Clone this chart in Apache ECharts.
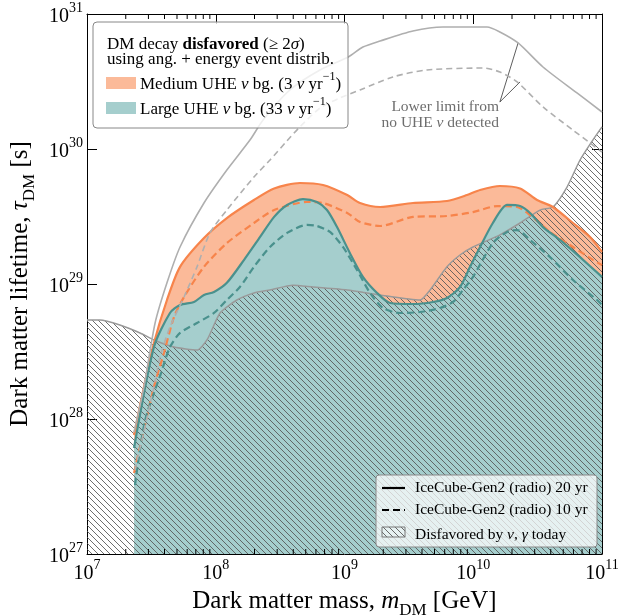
<!DOCTYPE html>
<html><head><meta charset="utf-8">
<script src="https://cdn.jsdelivr.net/npm/echarts@6/dist/echarts.min.js"></script>
<style>html,body{margin:0;padding:0;background:#fff}#c{width:641px;height:616px}</style>
</head><body><div id="c"></div>
<script>
// ---- data (x: DM mass [GeV], y: lifetime [s]) ----
const minorTicksX = [2e7,3e7,4e7,5e7,6e7,7e7,8e7,9e7, 2e8,3e8,4e8,5e8,6e8,7e8,8e8,9e8,
  2e9,3e9,4e9,5e9,6e9,7e9,8e9,9e9, 2e10,3e10,4e10,5e10,6e10,7e10,8e10,9e10];
const minorTicksY = [2e27,3e27,4e27,5e27,6e27,7e27,8e27,9e27, 2e28,3e28,4e28,5e28,6e28,7e28,8e28,9e28,
  2e29,3e29,4e29,5e29,6e29,7e29,8e29,9e29, 2e30,3e30,4e30,5e30,6e30,7e30,8e30,9e30];

const noUHE20 = [[2.32e7,8.0e27],[2.77e7,1.73e28],[3.38e7,5.14e28],[4.18e7,1.02e29],[5.28e7,1.88e29],
  [8.10e7,3.98e29],[1.22e8,6.99e29],[1.85e8,1.17e30],[2.33e8,1.64e30],[3.77e8,2.74e30],[6.45e8,3.85e30],
  [1.07e9,4.80e30],[1.39e9,5.69e30],[1.89e9,6.31e30],[3.40e9,7.48e30],[5.82e9,8.01e30],[1.28e10,8.01e30],
  [1.61e10,7.36e30],[2.23e10,6.10e30],[3.48e10,4.05e30],[6.39e10,2.60e30],[1e11,1.88e30]];
const noUHE10 = [[2.36e7,4.19e27],[3.31e7,1.73e28],[3.69e7,2.88e28],[4.41e7,4.80e28],[5.67e7,8.01e28],
  [7.15e7,1.34e29],[9.02e7,2.39e29],[1.22e8,3.53e29],[1.98e8,6.20e29],[2.64e8,8.29e29],[3.58e8,1.15e30],
  [4.51e8,1.46e30],[6.45e8,2.01e30],[9.23e8,2.39e30],[1.32e9,2.74e30],[2.38e9,3.42e30],[4.37e9,3.85e30],
  [1.19e10,3.98e30],[1.61e10,3.72e30],[2.19e10,3.14e30],[3.48e10,2.05e30],[5.95e10,1.38e30],
  [8.07e10,1.11e30],[1e11,9.5e29]];
const medium20 = [[2.32e7,7.6e27],[2.77e7,1.73e28],[3.31e7,3.66e28],[4.18e7,7.61e28],[5.28e7,1.34e29],
  [8.10e7,2.19e29],[1.22e8,3.08e29],[1.98e8,4.19e29],[2.84e8,5.10e29],[4.51e8,5.60e29],[6.81e8,5.41e29],
  [1.05e9,4.56e29],[1.32e9,3.98e29],[1.89e9,3.72e29],[3.40e9,3.98e29],[6.25e9,4.12e29],[8.94e9,4.56e29],
  [1.13e10,4.97e29],[1.61e10,5.32e29],[2.31e10,5.10e29],[3.13e10,4.19e29],[4.16e10,3.72e29],
  [5.95e10,2.83e29],[8.07e10,2.23e29],[1e11,1.73e29]];
const medium10 = [[2.32e7,3.98e27],[3.31e7,1.73e28],[3.96e7,3.08e28],[4.74e7,5.69e28],[5.67e7,8.01e28],
  [8.10e7,1.34e29],[1.22e8,2.01e29],[1.98e8,2.83e29],[2.84e8,3.53e29],[5.11e8,4.05e29],[6.81e8,3.98e29],
  [1.05e9,3.36e29],[1.32e9,2.88e29],[1.89e9,2.69e29],[3.40e9,3.14e29],[6.25e9,3.19e29],[9.96e9,3.41e29],
  [1.53e10,3.78e29],[2.19e10,3.72e29],[2.76e10,3.24e29],[3.95e10,2.43e29],[5.95e10,1.88e29],
  [8.51e10,1.51e29],[1e11,1.38e29]];
const large20 = [[2.32e7,6.1e27],[3.31e7,3.41e28],[4.41e7,6.10e28],[5.28e7,6.99e28],[6.78e7,7.36e28],
  [8.10e7,8.29e28],[9.69e7,8.73e28],[1.22e8,1.02e29],[1.66e8,1.51e29],[2.21e8,2.23e29],[2.84e8,3.14e29],
  [3.58e8,3.85e29],[4.76e8,4.26e29],[6.11e8,4.05e29],[7.31e8,3.53e29],[8.75e8,2.64e29],[1.10e9,1.70e29],
  [1.39e9,1.13e29],[1.79e9,8.58e28],[2.26e9,7.23e28],[3.40e9,7.11e28],[4.87e9,7.36e28],[6.25e9,7.87e28],
  [7.89e9,9.50e28],[9.44e9,1.34e29],[1.13e10,1.88e29],[1.42e10,2.83e29],[1.83e10,3.85e29],
  [2.31e10,3.78e29],[2.76e10,3.36e29],[3.48e10,2.64e29],[4.72e10,2.12e29],[6.75e10,1.58e29],[1e11,1.13e29]];
const large10 = [[2.36e7,3.24e27],[2.82e7,9.67e27],[3.76e7,2.19e28],[4.41e7,3.41e28],[5.28e7,4.34e28],
  [7.15e7,5.14e28],[9.69e7,6.10e28],[1.22e8,7.61e28],[1.54e8,9.50e28],[1.98e8,1.34e29],[2.64e8,1.88e29],
  [3.58e8,2.39e29],[5.11e8,2.74e29],[6.11e8,2.69e29],[7.72e8,2.43e29],[9.73e8,1.88e29],[1.25e9,1.27e29],
  [1.58e9,8.58e28],[1.99e9,6.64e28],[2.70e9,6.10e28],[3.86e9,6.20e28],[5.52e9,6.64e28],[6.96e9,7.36e28],
  [8.32e9,9.03e28],[9.96e9,1.13e29],[1.42e10,2.01e29],[1.83e10,2.43e29],[2.19e10,2.51e29],
  [2.76e10,2.12e29],[3.95e10,1.58e29],[5.95e10,1.07e29],[9.15e10,7.61e28],[1e11,6.99e28]];
const disfavoredToday = [[1e7,5.41e28],[1.26e7,5.41e28],[1.80e7,4.97e28],[2.58e7,4.34e28],[3.31e7,3.85e28],
  [4.74e7,3.41e28],[7.15e7,3.24e28],[8.55e7,3.85e28],[1.08e8,6.10e28],[1.46e8,7.61e28],[1.98e8,8.58e28],
  [2.64e8,9.03e28],[3.98e8,9.80e28],[5.69e8,9.50e28],[1.05e9,9.03e28],[1.89e9,8.29e28],[3.86e9,7.61e28],
  [4.62e9,9.03e28],[6.25e9,1.34e29],[7.89e9,1.64e29],[9.96e9,1.88e29],[1.61e10,2.31e29],[2.31e10,2.83e29],
  [3.30e10,3.53e29],[4.16e10,3.72e29],[5.35e10,5.23e29],[6.75e10,8.29e29],[8.51e10,1.17e30],[1e11,1.46e30]];
const annotAnchor = [1.61e10, 2.23e30];
const annotSolid = [2.23e10, 6.10e30];
const annotDashed = [2.31e10, 3.14e30];

// ---- styling ----
const FF = "'Liberation Serif','DejaVu Serif',serif";
const C_OR_FILL = '#FBBA99', C_OR_LINE = '#F7844B';
const C_TE_FILL = '#A5CECD', C_TE_LINE = '#4A918D';
const C_GRAY = '#AFAFAF';
const LF = 17;   // top-left legend font size
const LF2 = 15.5; // bottom-right legend font size

function makeHatch(){
  const c = document.createElement('canvas'); c.width = 6; c.height = 6;
  const g = c.getContext('2d');
  g.strokeStyle = 'rgba(85,85,85,0.85)'; g.lineWidth = 1;
  g.beginPath();
  g.moveTo(-1,-1); g.lineTo(7,7);
  g.moveTo(-1,5); g.lineTo(1,7);
  g.moveTo(5,-1); g.lineTo(7,1);
  g.stroke();
  return c;
}
const hatch = {image: makeHatch(), repeat: 'repeat'};

const tickRich = {
  b: {fontSize: 20, fontFamily: FF, color: '#000', lineHeight: 26, verticalAlign: 'bottom'},
  s: {fontSize: 14, fontFamily: FF, color: '#000', lineHeight: 12, verticalAlign: 'top'}
};
const fmt = v => '{b|10}{s|' + Math.round(Math.log10(v)) + '}';
const nameRich = {
  n: {fontSize: 25, fontFamily: FF, color: '#000', lineHeight: 30, verticalAlign: 'top'},
  i: {fontSize: 25, fontFamily: FF, color: '#000', fontStyle: 'italic', lineHeight: 30, verticalAlign: 'top'},
  sub: {fontSize: 17, fontFamily: FF, color: '#000', lineHeight: 18, verticalAlign: 'bottom'}
};
const axisCommon = {
  type: 'log', logBase: 10,
  axisLine: {show: true, onZero: false, lineStyle: {color: '#000', width: 1}},
  axisTick: {show: true, inside: true, length: 10, lineStyle: {color: '#000', width: 1}},
  splitLine: {show: false}, minorTick: {show: false}
};

function minorRender(isX){
  return function(params, api){
    const v = api.value(0);
    let a, b, ch;
    if (isX){
      a = api.coord([v, 1e27]); b = api.coord([v, 1e31]);
      ch = [
        {type:'line', shape:{x1:a[0],y1:a[1],x2:a[0],y2:a[1]-5}, style:{stroke:'#000',lineWidth:1}},
        {type:'line', shape:{x1:b[0],y1:b[1],x2:b[0],y2:b[1]+5}, style:{stroke:'#000',lineWidth:1}}];
    } else {
      a = api.coord([1e7, v]); b = api.coord([1e11, v]);
      ch = [
        {type:'line', shape:{x1:a[0],y1:a[1],x2:a[0]+5,y2:a[1]}, style:{stroke:'#000',lineWidth:1}},
        {type:'line', shape:{x1:b[0],y1:b[1],x2:b[0]-5,y2:b[1]}, style:{stroke:'#000',lineWidth:1}}];
    }
    return {type:'group', children: ch};
  };
}

const areaS = (name, data, color, z) => ({
  type:'line', name, data, showSymbol:false, smooth:0.25, z,
  lineStyle:{width:0, opacity:0}, areaStyle:{color, opacity:1, origin:'start'}, silent:true
});
const lineS = (name, data, color, width, dash, z) => ({
  type:'line', name, data, showSymbol:false, smooth:0.25, z,
  lineStyle:{color, width, type: dash ? dash : 'solid'}, silent:true
});
const mkRich = fs => ({
  a:{fontSize:fs, fontFamily:FF, fill:'#000', lineHeight:22, verticalAlign:'bottom'},
  b:{fontSize:fs, fontFamily:FF, fontWeight:'bold', fill:'#000', lineHeight:22, verticalAlign:'bottom'},
  i:{fontSize:fs, fontFamily:FF, fontStyle:'italic', fill:'#000', lineHeight:22, verticalAlign:'bottom'},
  s:{fontSize:12, fontFamily:FF, fill:'#000', lineHeight:12, verticalAlign:'top'}
});
const legRich = mkRich(LF);
const legRich2 = mkRich(LF2);
const annRich = {
  a:{fontSize:15.5, fontFamily:FF, fill:'#6e6e6e'},
  i:{fontSize:15.5, fontFamily:FF, fontStyle:'italic', fill:'#6e6e6e'}
};

const option = {
  animation: false,
  backgroundColor: '#fff',
  grid: {left: 87, right: 39, top: 14, bottom: 62, containLabel: false, outerBoundsMode: 'none'},
  xAxis: [
    Object.assign({}, axisCommon, {min: 1e7, max: 1e11, position: 'bottom',
      axisLabel: {formatter: fmt, rich: tickRich, margin: 4},
      name: '{n|Dark matter mass, }{i|m}{sub|DM}{n| [GeV]}', nameLocation: 'middle', nameGap: 31,
      nameTextStyle: {rich: nameRich}}),
    Object.assign({}, axisCommon, {min: 1e7, max: 1e11, position: 'top', axisLabel: {show: false}})
  ],
  yAxis: [
    Object.assign({}, axisCommon, {min: 1e27, max: 1e31, position: 'left',
      axisLabel: {formatter: fmt, rich: tickRich, margin: 4},
      name: '{n|Dark matter lifetime, }{i|τ}{sub|DM}{n| [s]}', nameLocation: 'middle', nameGap: 45,
      nameRotate: 90, nameTextStyle: {rich: nameRich}}),
    Object.assign({}, axisCommon, {min: 1e27, max: 1e31, position: 'right', axisLabel: {show: false}})
  ],
  series: [
    areaS('Medium UHE fill', medium20, C_OR_FILL, 1),
    areaS('Large UHE fill', large20, C_TE_FILL, 2),
    {type:'line', name:'Disfavored today', data: disfavoredToday, showSymbol:false, smooth:0.2, z:3,
      lineStyle:{color:'#999', width:1.5}, areaStyle:{color: hatch, opacity:1, origin:'start'}, silent:true},
    lineS('Medium 20yr', medium20, C_OR_LINE, 2.2, null, 4),
    lineS('Medium 10yr', medium10, C_OR_LINE, 2.2, [7,4], 4),
    lineS('Large 20yr', large20, C_TE_LINE, 2.2, null, 5),
    lineS('Large 10yr', large10, C_TE_LINE, 2.2, [7,4], 5),
    lineS('No UHE 20yr', noUHE20, C_GRAY, 1.6, null, 6),
    lineS('No UHE 10yr', noUHE10, C_GRAY, 1.6, [6,4], 6),
    {type:'line', name:'annot', data: [], z: 7,
      markLine: {silent:true, symbol:['none','none'], label:{show:false}, animation:false,
        lineStyle:{color:'#333', width:0.8, type:'solid'},
        data: [[{coord: annotAnchor}, {coord: annotSolid}], [{coord: annotAnchor}, {coord: annotDashed}]]}},
    {type:'custom', name:'minorX', data: minorTicksX.map(v => [v, 1e28]), renderItem: minorRender(true), clip:false, z:10, silent:true},
    {type:'custom', name:'minorY', data: minorTicksY.map(v => [1e8, v]), renderItem: minorRender(false), clip:false, z:10, silent:true}
  ],
  graphic: [
    // top-left legend
    {type:'rect', z:100, shape:{x:93, y:22, width:255, height:106, r:4},
      style:{fill:'rgba(255,255,255,0.8)', stroke:'#888', lineWidth:1}},
    {type:'text', z:101, x:107, y:42, style:{
      text:'{a|DM decay }{b|disfavored}{a| (≥ 2}{i|σ}{a|)}', verticalAlign:'middle', rich: legRich}},
    {type:'text', z:101, x:107, y:60, style:{text:'using ang. + energy event distrib.', verticalAlign:'middle',
      font: LF + 'px ' + FF, fill:'#000'}},
    {type:'rect', z:101, shape:{x:106, y:77, width:30, height:12}, style:{fill:C_OR_FILL}},
    {type:'rect', z:101, shape:{x:106, y:102, width:30, height:12}, style:{fill:C_TE_FILL}},
    {type:'text', z:101, x:140, y:82, style:{
      text:'{a|Medium UHE }{i|ν}{a| bg. (3 }{i|ν}{a| yr}{s|−1}{a|)}', verticalAlign:'middle', rich: legRich}},
    {type:'text', z:101, x:140, y:107, style:{
      text:'{a|Large UHE }{i|ν}{a| bg. (33 }{i|ν}{a| yr}{s|−1}{a|)}', verticalAlign:'middle', rich: legRich}},
    // annotation text
    {type:'text', z:101, x:499, y:107, style:{text:'Lower limit from', align:'right', verticalAlign:'middle',
      font:'15.5px ' + FF, fill:'#6e6e6e'}},
    {type:'text', z:101, x:499, y:123, style:{
      text:'{a|no UHE }{i|ν}{a| detected}', align:'right', verticalAlign:'middle', rich: annRich}},
    // bottom-right legend
    {type:'rect', z:100, shape:{x:376, y:475, width:221, height:72, r:3},
      style:{fill:'rgba(255,255,255,0.72)', stroke:'#888', lineWidth:1}},
    {type:'line', z:101, shape:{x1:382, y1:488, x2:405, y2:488}, style:{stroke:'#000', lineWidth:2.2}},
    {type:'line', z:101, shape:{x1:382, y1:510, x2:405, y2:510}, style:{stroke:'#000', lineWidth:2.2, lineDash:[7,4]}},
    {type:'rect', z:101, shape:{x:382, y:527, width:23, height:10}, style:{fill:hatch, stroke:'#777', lineWidth:1}},
    {type:'text', z:101, x:415, y:488, style:{text:'IceCube-Gen2 (radio) 20 yr', verticalAlign:'middle', font: LF2 + 'px ' + FF, fill:'#000'}},
    {type:'text', z:101, x:415, y:510, style:{text:'IceCube-Gen2 (radio) 10 yr', verticalAlign:'middle', font: LF2 + 'px ' + FF, fill:'#000'}},
    {type:'text', z:101, x:415, y:532, style:{
      text:'{a|Disfavored by }{i|ν}{a|, }{i|γ}{a| today}', verticalAlign:'middle', rich: legRich2}}
  ]
};
const chart = echarts.init(document.getElementById('c'), null, {renderer:'canvas'});
chart.setOption(option);
</script></body></html>
